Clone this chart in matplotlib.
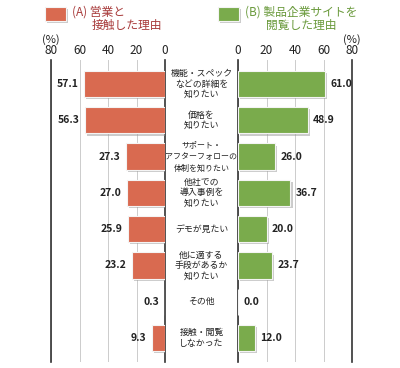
import matplotlib
matplotlib.use("Agg")
import matplotlib.pyplot as plt
import matplotlib.patheffects as pe
from matplotlib.patches import Rectangle

plt.rcParams['font.family'] = ['Noto Sans CJK JP', 'DejaVu Sans']

categories = ["機能・スペック\nなどの詳細を\n知りたい", "価格を\n知りたい", "サポート・\nアフターフォローの\n体制を知りたい",
              "他社での\n導入事例を\n知りたい", "デモが見たい", "他に適する\n手段があるか\n知りたい", "その他", "接触・閲覧\nしなかった"]
sales = [57.1, 56.3, 27.3, 27.0, 25.9, 23.2, 0.3, 9.3]
web = [61.0, 48.9, 26.0, 36.7, 20.0, 23.7, 0.0, 12.0]
ticks = [0, 20, 40, 60, 80]
legend_a = "(A) 営業と"
legend_a2 = "接触した理由"
legend_b = "(B) 製品企業サイトを\n閲覧した理由"

W, H = 400, 368
fig = plt.figure(figsize=(4, 3.68), dpi=100)
fig.patch.set_facecolor("white")

red = "#d96a50"
green = "#7aab4c"
shadow = [pe.SimplePatchShadow(offset=(1.6, -1.6), shadow_rgbFace="#999999", alpha=0.5), pe.Normal()]

def fx(px):
    return px / W

def fy(py):
    return 1 - py / H

bottom = fy(362)
height = fy(60) - bottom
axL = fig.add_axes([fx(51), bottom, fx(165) - fx(51), height])
axR = fig.add_axes([fx(238), bottom, fx(352) - fx(238), height])

y = list(range(len(categories)))
for ax, vals, col, inv in [(axL, sales, red, True), (axR, web, green, False)]:
    bars = ax.barh(y, vals, height=0.72, color=col, edgecolor="#f4f4f4", linewidth=0.8, zorder=3)
    for b in bars:
        if b.get_width() > 0:
            b.set_path_effects(shadow)
    ax.set_xlim(80, 0) if inv else ax.set_xlim(0, 80)
    ax.set_ylim(7.66, -0.66)
    ax.set_xticks(ticks)
    ax.xaxis.tick_top()
    ax.tick_params(axis='x', length=0, pad=2, labelsize=8.5, colors="#222222")
    ax.set_yticks([])
    ax.grid(axis='x', color="#cccccc", linewidth=0.7, zorder=0)
    for s in ["top", "bottom"]:
        ax.spines[s].set_visible(False)
    for s in ["left", "right"]:
        ax.spines[s].set_color("#333333")
        ax.spines[s].set_linewidth(1.2)
    for yi, v in zip(y, vals):
        if inv:
            ax.text(v + 3.8, yi, f"{v:.1f}", ha="right", va="center", fontsize=7.5, fontweight="bold", color="#222222")
        else:
            ax.text(v + 3.8, yi, f"{v:.1f}", ha="left", va="center", fontsize=7.5, fontweight="bold", color="#222222")

# (%) labels
fig.text(fx(51), fy(40), "(%)", ha="center", va="center", fontsize=8, color="#222222")
fig.text(fx(352), fy(40), "(%)", ha="center", va="center", fontsize=8, color="#222222")

# center category labels
for yi, c in zip(y, categories):
    ypix = 84 + 36.3 * yi
    longest = max(len(s) for s in c.split("\n"))
    fs = min(6.4, 72 / (longest * 100 / 72))
    fig.text(fx(201.5), fy(ypix), c, ha="center", va="center", fontsize=fs, color="#222222",
             linespacing=1.25 * 6.2 / fs)

# legend
for (x0, col) in [(45, red), (218, green)]:
    r = Rectangle((fx(x0), fy(21)), fx(21), fy(7) - fy(21), transform=fig.transFigure,
                  facecolor=col, edgecolor="#f4f4f4", linewidth=0.8)
    r.set_path_effects(shadow)
    fig.patches.append(r)
fig.text(fx(72), fy(12), legend_a, ha="left", va="center", fontsize=8.5, color="#a83a3a")
fig.text(fx(92), fy(25.5), legend_a2, ha="left", va="center", fontsize=8.5, color="#a83a3a")
fig.text(fx(301), fy(18.5), legend_b, ha="center", va="center", fontsize=8.5, color="#6a9a3c", linespacing=1.05)

fig.savefig("out.png", dpi=100)
